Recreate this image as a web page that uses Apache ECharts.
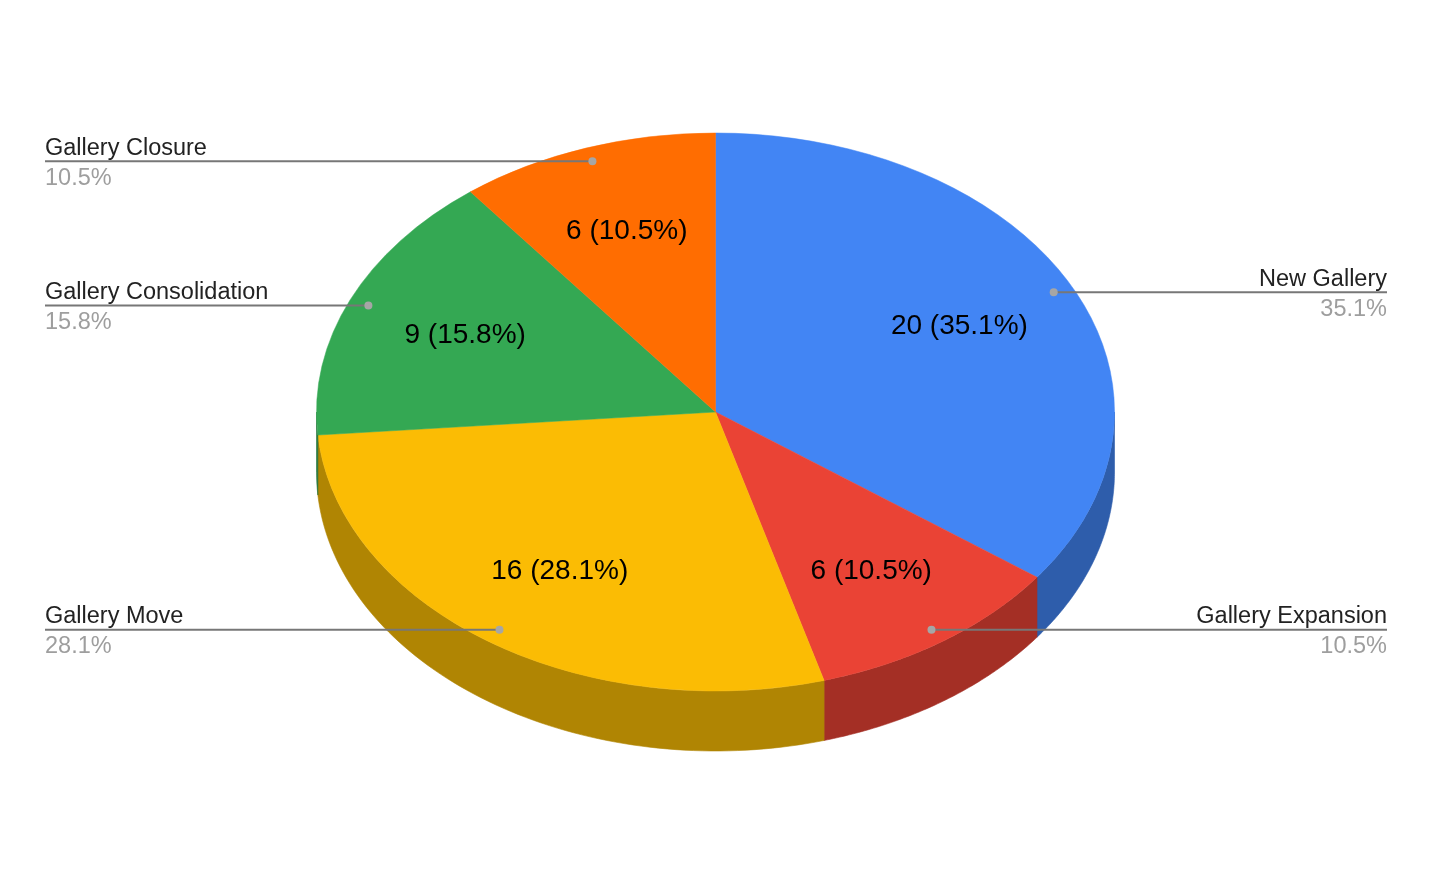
<!DOCTYPE html>
<html>
<head>
<meta charset="utf-8">
<script src="https://cdn.jsdelivr.net/npm/echarts@6/dist/echarts.min.js"></script>
<style>
  html, body { margin: 0; padding: 0; background: #fff; }
  #chart { width: 1432px; height: 886px; }
</style>
</head>
<body>
<div id="chart"></div>
<script>
const categories = ['New Gallery', 'Gallery Expansion', 'Gallery Move', 'Gallery Consolidation', 'Gallery Closure'];
const values = [20, 6, 16, 9, 6];
const topColors = ['#4285F4', '#EA4335', '#FBBC04', '#34A853', '#FF6D01'];
const sideColors = ['#2E5DAB', '#A42F25', '#B08503', '#24763A', '#B24C01'];

const total = values.reduce((a, b) => a + b, 0);
const FONT = "'Liberation Sans', Arial, Helvetica, sans-serif";

function renderItem(params, api) {
  const i = params.dataIndex;
  const v = api.value(1);
  const W = api.getWidth();
  const cx = 715.5, cy = 412, rx = 399, ry = 279, depth = 60;
  let before = 0;
  for (let k = 0; k < i; k++) before += values[k];
  const a0 = -Math.PI / 2 + before / total * Math.PI * 2;
  const a1 = a0 + v / total * Math.PI * 2;
  const children = [];

  // side wall (visible front part, angles 0..PI)
  const s = Math.max(a0, 0), e = Math.min(a1, Math.PI);
  if (e > s) {
    const pts = [];
    const n = 80;
    for (let k = 0; k <= n; k++) {
      const t = s + (e - s) * k / n;
      pts.push([cx + rx * Math.cos(t), cy + ry * Math.sin(t)]);
    }
    for (let k = n; k >= 0; k--) {
      const t = s + (e - s) * k / n;
      pts.push([cx + rx * Math.cos(t), cy + ry * Math.sin(t) + depth]);
    }
    children.push({
      type: 'polygon',
      shape: { points: pts },
      style: { fill: sideColors[i], stroke: sideColors[i], lineWidth: 0.6 }
    });
  }

  // top face
  children.push({
    type: 'group',
    x: cx, y: cy, scaleY: ry / rx,
    children: [{
      type: 'sector',
      shape: { cx: 0, cy: 0, r0: 0, r: rx, startAngle: a0, endAngle: a1, clockwise: true },
      style: { fill: topColors[i], stroke: topColors[i], lineWidth: 0.6 }
    }]
  });

  const mid = (a0 + a1) / 2;
  const pct = (v / total * 100).toFixed(1) + '%';

  // inside label
  children.push({
    type: 'text',
    x: cx + 0.685 * rx * Math.cos(mid),
    y: cy + 0.69 * ry * Math.sin(mid) + 1,
    z2: 50,
    style: {
      text: v + ' (' + pct + ')',
      fill: '#000', font: '28px ' + FONT,
      align: 'center', verticalAlign: 'middle'
    }
  });

  // outside label with leader line
  const dx = cx + 0.95 * rx * Math.cos(mid);
  const dy = cy + 0.95 * ry * Math.sin(mid);
  const left = Math.cos(mid) < 0;
  const ex = left ? 45 : W - 45;
  children.push({
    type: 'line', z2: 100,
    shape: { x1: dx, y1: dy, x2: ex, y2: dy },
    style: { stroke: '#777777', lineWidth: 2 }
  });
  children.push({
    type: 'circle', z2: 101,
    shape: { cx: dx, cy: dy, r: 4 },
    style: { fill: '#a6a6a6' }
  });
  children.push({
    type: 'text', z2: 100,
    x: ex, y: dy - 1,
    style: {
      text: categories[i], fill: '#222', font: '23.5px ' + FONT,
      align: left ? 'left' : 'right', verticalAlign: 'bottom'
    }
  });
  children.push({
    type: 'text', z2: 100,
    x: ex, y: dy + 5,
    style: {
      text: pct, fill: '#9e9e9e', font: '23.5px ' + FONT,
      align: left ? 'left' : 'right', verticalAlign: 'top'
    }
  });

  return { type: 'group', children: children };
}

const chart = echarts.init(document.getElementById('chart'), null, { renderer: 'canvas' });
chart.setOption({
  backgroundColor: '#ffffff',
  animation: false,
  series: [{
    type: 'custom',
    coordinateSystem: 'none',
    data: values.map((v, i) => [i, v]),
    renderItem: renderItem
  }]
});
</script>
</body>
</html>
